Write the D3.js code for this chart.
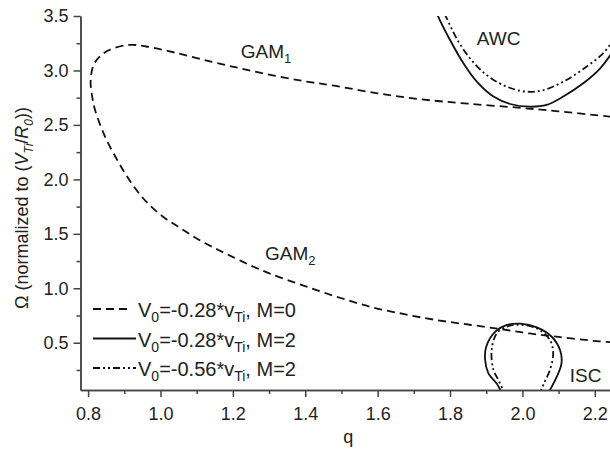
<!DOCTYPE html>
<html>
<head>
<meta charset="utf-8">
<script src="https://cdn.jsdelivr.net/npm/d3@7"></script>
<style>
  body { margin: 0; background: #fff; }
  text { font-family: "Liberation Sans", Arial, sans-serif; fill: #222; }
</style>
</head>
<body>
<svg id="chart" width="610" height="449"></svg>
<script>
// GAM branch (dashed, V0=-0.28 vTi, M=0): GAM1 right to left, then down along GAM2
const gamQ = [2.245, 2.10, 2.00, 1.85, 1.72, 1.60, 1.48, 1.40, 1.31, 1.22, 1.14, 1.045, 0.96, 0.915, 0.86, 0.833, 0.815, 0.807, 0.81,
  0.819, 0.847, 0.875, 0.902, 0.93, 0.962, 1.008, 1.054, 1.10, 1.146, 1.192, 1.257, 1.31, 1.395, 1.487, 1.579, 1.671, 1.763, 1.855, 1.94, 2.02, 2.10, 2.196, 2.245];
const gamW = [2.575, 2.625, 2.655, 2.695, 2.735, 2.79, 2.86, 2.90, 2.955, 3.02, 3.08, 3.16, 3.22, 3.235, 3.19, 3.13, 3.05, 2.90, 2.79,
  2.64, 2.39, 2.21, 2.056, 1.918, 1.79, 1.655, 1.555, 1.457, 1.375, 1.30, 1.198, 1.125, 1.025, 0.922, 0.831, 0.764, 0.708, 0.665, 0.625, 0.585, 0.553, 0.518, 0.505];

// AWC, solid (M=2, V0=-0.28) and dash-dot-dot (M=2, V0=-0.56)
const awcSolidQ = [1.76, 1.768, 1.80, 1.837, 1.874, 1.92, 1.966, 2.021, 2.067, 2.113, 2.168, 2.215, 2.245];
const awcSolidW = [3.56, 3.49, 3.28, 3.066, 2.897, 2.76, 2.692, 2.667, 2.683, 2.76, 2.882, 3.02, 3.15];
const awcDotQ = [1.785, 1.791, 1.818, 1.855, 1.901, 1.957, 2.012, 2.058, 2.113, 2.177, 2.223, 2.245];
const awcDotW = [3.52, 3.479, 3.295, 3.112, 2.958, 2.851, 2.805, 2.82, 2.897, 3.034, 3.157, 3.25];

// ISC loops
const iscSolidQ = [1.948, 1.93, 1.906, 1.897, 1.90, 1.925, 1.957, 1.994, 2.04, 2.081, 2.104, 2.108, 2.095, 2.072, 2.066];
const iscSolidW = [0.0, 0.12, 0.219, 0.341, 0.463, 0.601, 0.663, 0.675, 0.641, 0.555, 0.433, 0.31, 0.188, 0.04, 0.0];
const iscDotQ = [1.955, 1.935, 1.92, 1.915, 1.929, 1.955, 1.984, 2.04, 2.076, 2.085, 2.076, 2.06, 2.049, 2.045];
const iscDotW = [0.0, 0.15, 0.25, 0.433, 0.586, 0.645, 0.665, 0.632, 0.525, 0.403, 0.25, 0.13, 0.04, 0.0];

const xMajor = [0.8, 1.0, 1.2, 1.4, 1.6, 1.8, 2.0, 2.2];
const xMinor = [0.9, 1.1, 1.3, 1.5, 1.7, 1.9, 2.1];
const yMajor = [0.5, 1.0, 1.5, 2.0, 2.5, 3.0, 3.5];
const yMinor = [0.25, 0.75, 1.25, 1.75, 2.25, 2.75, 3.25];

const legendLabels = [
  { style: "dash", v: "-0.28", m: "0" },
  { style: "solid", v: "-0.28", m: "2" },
  { style: "dashdot", v: "-0.56", m: "2" }
];

const svg = d3.select("#chart");
const mLeft = 80.5, mRight = 610, mTop = 16, mBottom = 390;

const x = d3.scaleLinear().domain([0.779, 2.242]).range([mLeft, mRight]);
const y = d3.scaleLinear().domain([0.066, 3.5]).range([mBottom, mTop]);

const dashes = { dash: "8,5", solid: null, dashdot: "7,3,2,3,2,3" };

svg.append("clipPath").attr("id", "clip")
  .append("rect").attr("x", mLeft).attr("y", mTop).attr("width", mRight - mLeft).attr("height", mBottom - mTop);

const plot = svg.append("g").attr("clip-path", "url(#clip)");

const line = d3.line().x(d => x(d[0])).y(d => y(d[1])).curve(d3.curveCatmullRom.alpha(0.5));

function drawCurve(qs, ws, style) {
  plot.append("path")
    .datum(qs.map((q, i) => [q, ws[i]]))
    .attr("d", line)
    .attr("fill", "none")
    .attr("stroke", "#111")
    .attr("stroke-width", 1.8)
    .attr("stroke-dasharray", dashes[style]);
}

drawCurve(gamQ, gamW, "dash");
drawCurve(awcSolidQ, awcSolidW, "solid");
drawCurve(awcDotQ, awcDotW, "dashdot");
drawCurve(iscSolidQ, iscSolidW, "solid");
drawCurve(iscDotQ, iscDotW, "dashdot");

// axes
const axisColor = "#444";
const xAxis = svg.append("g").attr("transform", `translate(0,${mBottom})`)
  .call(d3.axisBottom(x).tickValues(xMajor).tickFormat(d3.format(".1f")).tickSize(7).tickPadding(10).tickSizeOuter(0));
const xAxisMinor = svg.append("g").attr("transform", `translate(0,${mBottom})`)
  .call(d3.axisBottom(x).tickValues(xMinor).tickFormat("").tickSize(4).tickSizeOuter(0));
const yAxis = svg.append("g").attr("transform", `translate(${mLeft},0)`)
  .call(d3.axisLeft(y).tickValues(yMajor).tickFormat(d3.format(".1f")).tickSize(7).tickPadding(5).tickSizeOuter(0));
const yAxisMinor = svg.append("g").attr("transform", `translate(${mLeft},0)`)
  .call(d3.axisLeft(y).tickValues(yMinor).tickFormat("").tickSize(4).tickSizeOuter(0));

[xAxis, xAxisMinor, yAxis, yAxisMinor].forEach(g => {
  g.selectAll("path, line").attr("stroke", axisColor).attr("stroke-width", 1.5);
  g.selectAll("text").attr("font-size", 18).attr("fill", "#222")
    .attr("font-family", "'Liberation Sans', Arial, sans-serif");
});

// axis titles
svg.append("text").attr("x", (mLeft + mRight) / 2 + 3).attr("y", 443)
  .attr("text-anchor", "middle").attr("font-size", 18).text("q");

const yTitle = svg.append("text")
  .attr("transform", "translate(28,208) rotate(-90)")
  .attr("text-anchor", "middle").attr("font-size", 18);
yTitle.append("tspan").text("Ω (normalized to (");
yTitle.append("tspan").attr("font-style", "italic").text("V");
yTitle.append("tspan").attr("font-style", "italic").attr("font-size", 12).attr("dy", 5).text("Ti");
yTitle.append("tspan").attr("dy", -5).text("/");
yTitle.append("tspan").attr("font-style", "italic").text("R");
yTitle.append("tspan").attr("font-style", "italic").attr("font-size", 12).attr("dy", 5).text("0");
yTitle.append("tspan").attr("dy", -5).text("))");

// curve labels
function subLabel(xp, yp, main, sub) {
  const t = svg.append("text").attr("x", xp).attr("y", yp).attr("font-size", 19);
  t.append("tspan").text(main);
  if (sub) t.append("tspan").attr("font-size", 13).attr("dy", 5).text(sub);
}
subLabel(x(1.222), y(3.112), "GAM", "1");
subLabel(x(1.289), y(1.26), "GAM", "2");
subLabel(x(1.874), y(3.23), "AWC");
subLabel(x(2.131), y(0.142), "ISC");

// legend
legendLabels.forEach((d, i) => {
  const ly = 309 + i * 29.5;
  svg.append("line")
    .attr("x1", 93).attr("x2", d.style === "dash" ? 132 : 136)
    .attr("y1", ly).attr("y2", ly)
    .attr("stroke", "#111").attr("stroke-width", 1.8)
    .attr("stroke-dasharray", dashes[d.style]);
  const t = svg.append("text").attr("x", 138).attr("y", ly + 8).attr("font-size", 20);
  t.append("tspan").text("V");
  t.append("tspan").attr("font-size", 14).attr("dy", 5).text("0");
  t.append("tspan").attr("dy", -5).text("=" + d.v + "*v");
  t.append("tspan").attr("font-size", 14).attr("dy", 5).text("Ti");
  t.append("tspan").attr("dy", -5).text(", M=" + d.m);
});
</script>
</body>
</html>
